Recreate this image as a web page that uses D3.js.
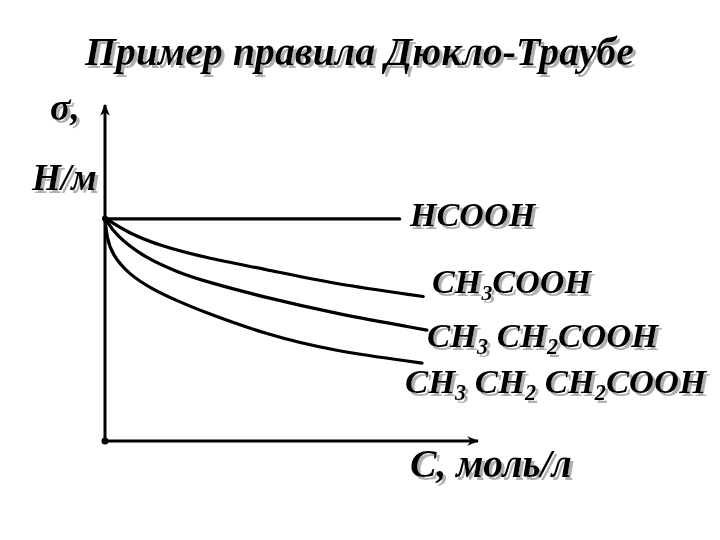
<!DOCTYPE html>
<html>
  <head>
    <meta charset="utf-8">
    <script src="https://d3js.org/d3.v7.min.js"></script>
    <style>
      html, body { margin: 0; padding: 0; background: #fff; overflow: hidden; }
    </style>
  </head>
  <body>
    <div id="chart"></div>
    <script>
      // concentration values (C, моль/л) and surface tension (σ, arbitrary units)
      const hcoohC = [0, 7.9];
      const hcoohS = [66.1, 66.1];

      const aceticC = [0, 0.62, 1.53, 2.68, 4.34, 6.11, 8.53];
      const aceticS = [66.4, 61.9, 57.9, 54.6, 51.0, 46.8, 43.0];

      const propC = [0, 0.27, 1.07, 1.96, 2.68, 4.34, 6.11, 8.63];
      const propS = [66.4, 61.3, 54.5, 50.2, 47.5, 42.6, 38.1, 33.0];

      const butC = [0, 0.05, 0.2, 0.62, 1.26, 1.96, 2.60, 4.34, 6.11, 8.50];
      const butS = [66.4, 60.4, 55.4, 49.8, 45.2, 41.6, 38.6, 31.6, 26.8, 23.2];

      const width = 720, height = 540;
      const font = "serif";

      const svg = d3.select("#chart").append("svg")
        .attr("width", width)
        .attr("height", height);

      const x = d3.scaleLinear().domain([0, 10]).range([105, 478]);
      const y = d3.scaleLinear().domain([0, 100]).range([441, 105]);

      const defs = svg.append("defs");
      defs.append("marker")
        .attr("id", "arrow")
        .attr("viewBox", "0 0 10 10")
        .attr("refX", 9).attr("refY", 5)
        .attr("markerWidth", 4).attr("markerHeight", 4)
        .attr("markerUnits", "strokeWidth")
        .attr("orient", "auto")
        .append("path")
        .attr("d", "M0,1 L10,5 L0,9 L3,5 Z")
        .attr("fill", "#000");

      // grey shadow behind the texts
      const sh = defs.append("filter").attr("id", "shadow")
        .attr("x", "-5%").attr("y", "-10%").attr("width", "115%").attr("height", "130%");
      sh.append("feOffset").attr("in", "SourceAlpha").attr("dx", 2.5).attr("dy", 2.5).attr("result", "off");
      sh.append("feFlood").attr("flood-color", "#b0b0b0");
      sh.append("feComposite").attr("in2", "off").attr("operator", "in").attr("result", "sh");
      const mg = sh.append("feMerge");
      mg.append("feMergeNode").attr("in", "sh");
      mg.append("feMergeNode").attr("in", "SourceGraphic");

      // axes
      svg.append("line")
        .attr("x1", x(0)).attr("y1", y(0))
        .attr("x2", x(0)).attr("y2", y(100))
        .attr("stroke", "#000").attr("stroke-width", 3)
        .attr("marker-end", "url(#arrow)");
      svg.append("line")
        .attr("x1", x(0)).attr("y1", y(0))
        .attr("x2", x(10)).attr("y2", y(0))
        .attr("stroke", "#000").attr("stroke-width", 3)
        .attr("marker-end", "url(#arrow)");
      svg.append("circle").attr("cx", x(0)).attr("cy", y(0)).attr("r", 3.5).attr("fill", "#000");

      const line = d3.line()
        .x(d => x(d[0]))
        .y(d => y(d[1]))
        .curve(d3.curveBasis);

      const series = [
        [hcoohC, hcoohS],
        [aceticC, aceticS],
        [propC, propS],
        [butC, butS]
      ];

      series.forEach(([cs, ss]) => {
        svg.append("path")
          .datum(cs.map((c, i) => [c, ss[i]]))
          .attr("d", line)
          .attr("fill", "none")
          .attr("stroke", "#000")
          .attr("stroke-width", 3.2)
          .attr("stroke-linecap", "round");
      });
      svg.append("circle").attr("cx", x(0)).attr("cy", y(66.2)).attr("r", 3).attr("fill", "#000");

      // bold italic text; sized so it spans the given width
      function label(px, py, parts, size, targetW) {
        const t = svg.append("text")
          .attr("x", px).attr("y", py)
          .attr("font-family", font)
          .attr("font-weight", "bold")
          .attr("font-style", "italic")
          .attr("font-size", size)
          .attr("fill", "#000")
          .attr("filter", "url(#shadow)");
        const build = s => {
          t.selectAll("tspan").remove();
          t.attr("font-size", s);
          let shift = 0;
          parts.forEach(p => {
            if (typeof p === "string") {
              t.append("tspan").attr("dy", -shift).text(p);
              shift = 0;
            } else {
              t.append("tspan").text(p.sub)
                .attr("font-size", s * 0.64)
                .attr("dy", s * 0.2);
              shift = s * 0.2;
            }
          });
        };
        build(size);
        if (targetW) {
          const w = t.node().getBBox().width;
          if (w > 0) build(Math.max(size * 0.8, Math.min(size * 1.25, size * targetW / w)));
        }
      }

      label(85, 65, ["Пример правила Дюкло-Траубе"], 40, 550);
      label(50, 120, ["σ,"], 34, 30);
      label(32, 190, ["Н/м"], 34, 66);
      label(410, 226, ["HCOOH"], 35, 128);
      label(432, 293, ["CH", {sub: "3"}, "COOH"], 35, 161);
      label(427, 347, ["CH", {sub: "3"}, " CH", {sub: "2"}, "COOH"], 35, 233);
      label(405, 393, ["CH", {sub: "3"}, " CH", {sub: "2"}, " CH", {sub: "2"}, "COOH"], 35, 303);
      label(410, 477, ["С, моль/л"], 35, 162);
    </script>
  </body>
</html>
